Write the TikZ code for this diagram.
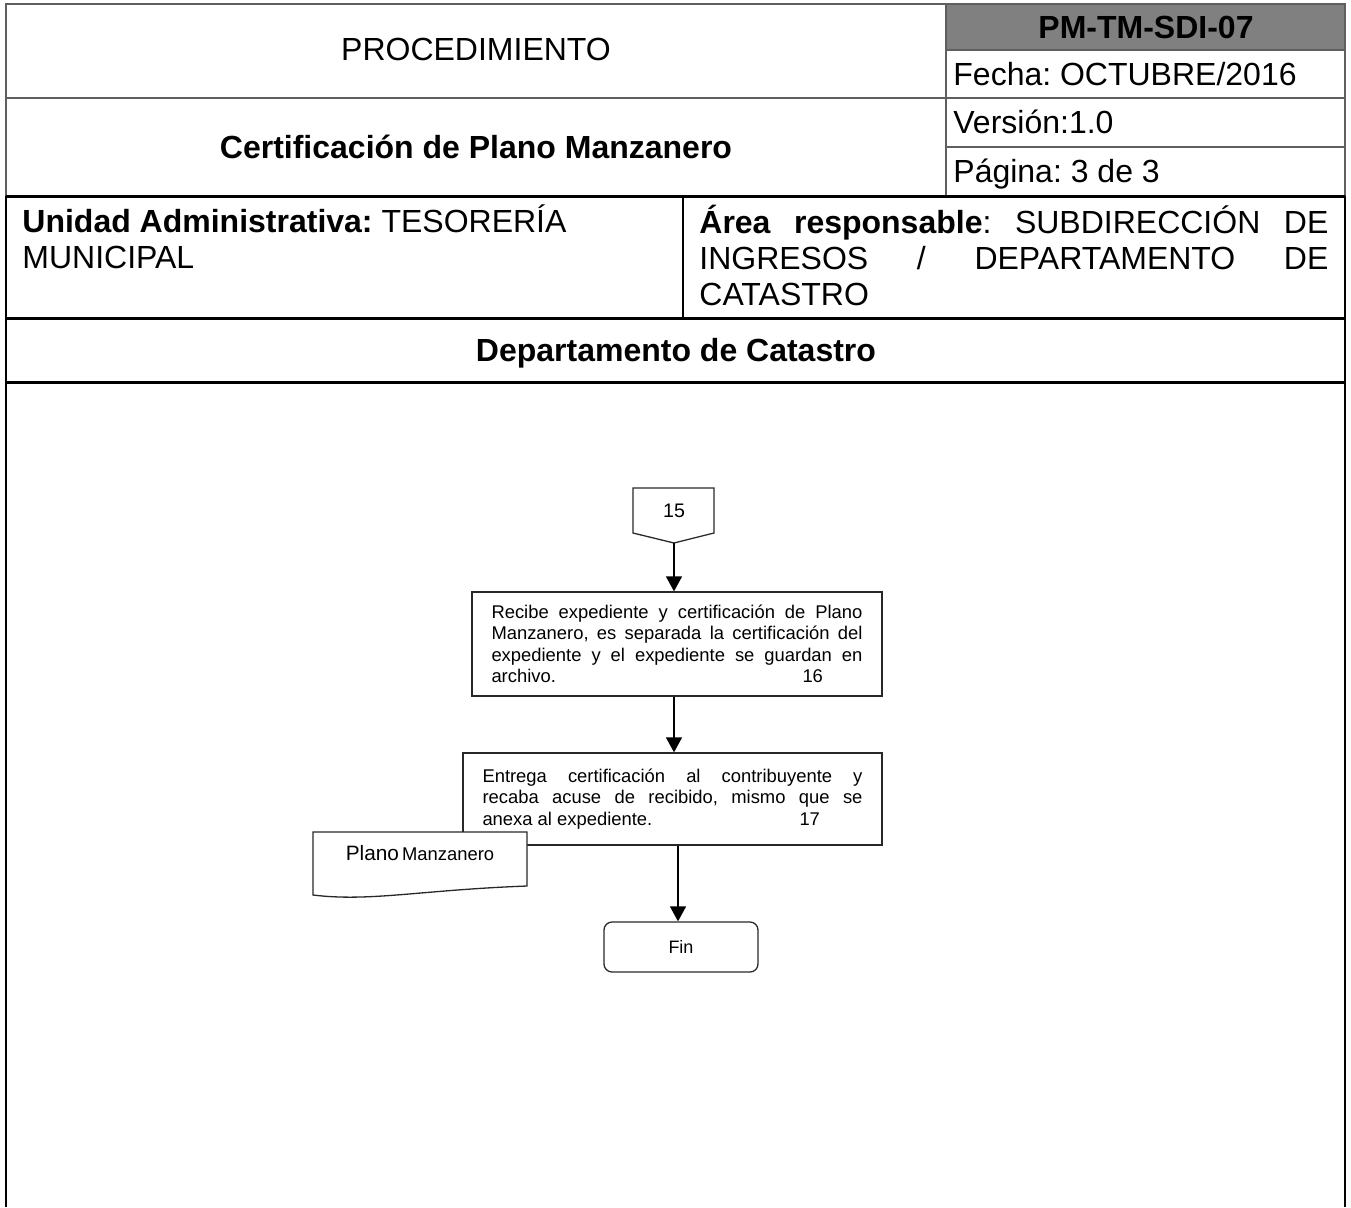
\documentclass[tikz,border=0pt]{standalone}
\usepackage{fontspec}
\setmainfont{Liberation Sans}
\usetikzlibrary{arrows.meta,calc}
\definecolor{hdrgray}{RGB}{128,128,128}
\definecolor{linegray}{RGB}{95,95,95}
\definecolor{boxline}{RGB}{40,40,40}
\frenchspacing
\begin{document}
\begin{tikzpicture}[x=0.5pt,y=-0.5pt,
  hline/.style={draw=linegray,line width=1pt},
  bline/.style={draw=black,line width=1.5pt},
  sline/.style={draw=black,line width=1pt},
  hdr/.style={font=\fontsize{16}{18}\selectfont,inner sep=0pt,anchor=base},
  hdrb/.style={hdr,font=\fontsize{16}{18}\selectfont\bfseries},
  procbox/.style={draw=boxline,line width=0.65pt,inner sep=0pt,font=\fontsize{9.2}{10.75}\selectfont},
  flowtxt/.style={inner sep=0pt,font=\fontsize{9.2}{10.75}\selectfont},
  arr/.style={draw=black,line width=0.65pt,-{Triangle[length=7.5pt,width=8pt]}},
]
\useasboundingbox (0,0) rectangle (1351,1207);

% ---------- header ----------
\fill[hdrgray] (946,4) rectangle (1345,50);
\draw[hline] (6,196) -- (6,4) -- (1345,4) -- (1345,196);
\draw[hline] (6,98) -- (1345,98);
\draw[hline] (946,4) -- (946,196);
\draw[hline] (946,50) -- (1345,50);
\draw[hline] (946,147) -- (1345,147);
\draw[sline] (6,196) -- (6,1207);
\draw[sline] (1345,196) -- (1345,1207);
\draw[bline] (6,196) -- (1345,196);
\draw[sline] (683,196) -- (683,318);
\draw[bline] (6,318) -- (1345,318);
\draw[bline] (6,382) -- (1345,382);

\node[hdr] (proc) at (476,60.5) {PROCEDIMIENTO};
\node[hdrb] (title) at (476,158.5) {Certificación de Plano Manzanero};
\node[hdrb] (code) at (1146,38.5) {PM-TM-SDI-07};
\node[hdr,anchor=base west] (fecha) at (953,85.5) {Fecha: OCTUBRE/2016};
\node[hdr,anchor=base west] (ver) at (953,133.5) {Versión:1.0};
\node[hdr,anchor=base west] (pag) at (953,182.5) {Página: 3 de 3};

\node[hdr,anchor=base west] (unidad) at (22,232)
  {\parbox[t]{320pt}{\fontsize{16}{18}\selectfont
   \textbf{Unidad Administrativa:} TESORERÍA\\
   MUNICIPAL}};
\node[hdr,anchor=base west] (area) at (699,233)
  {\parbox[t]{314.5pt}{\fontsize{16}{18}\selectfont
   \makebox[314.5pt][s]{\textbf{Área responsable}: SUBDIRECCIÓN DE}\\
   \makebox[314.5pt][s]{INGRESOS / DEPARTAMENTO DE}\\
   CATASTRO}};
\node[hdrb] (dept) at (676,361.5) {Departamento de Catastro};

% ---------- flowchart ----------
\draw[draw=boxline,line width=0.65pt] (633,488) -- (714,488) -- (714,533) -- (674,543) -- (633,533) -- cycle;
\node[inner sep=0pt,font=\fontsize{9.8}{11}\selectfont] (c15) at (674,511) {15};
\coordinate (c15tip) at (674,543);

\node[procbox,minimum width=205pt,minimum height=52pt] (b1) at (677,644)
  {\parbox{185.5pt}{%
   \makebox[185.5pt][s]{Recibe expediente y certificación de Plano}\\
   \makebox[185.5pt][s]{Manzanero, es separada la certificación del}\\
   \makebox[185.5pt][s]{expediente y el expediente se guardan en}\\
   \makebox[155.5pt][l]{archivo.}16}};

\node[procbox,minimum width=209.5pt,minimum height=46pt] (b2) at (672.5,799)
  {\parbox{190pt}{%
   \makebox[190pt][s]{Entrega certificación al contribuyente y}\\
   \makebox[190pt][s]{recaba acuse de recibido, mismo que se}\\
   \makebox[158.5pt][l]{anexa al expediente.}17}};

% document shape
\draw[draw=boxline,line width=0.65pt,fill=white] (313,832) -- (527,832) -- (527,886)
   .. controls (420,890) and (370,902) .. (313,895) -- cycle;
\node[flowtxt] (doc) at (420,853) {{\fontsize{10.4}{12}\selectfont Plano}\,Manzanero};

\node[draw=boxline,line width=0.65pt,rounded corners=4pt,minimum width=77pt,minimum height=25pt,inner sep=0pt,font=\fontsize{9}{10}\selectfont] (fin) at (681,947) {Fin};

\draw[arr] (c15tip) -- (c15tip |- b1.north);
\draw[arr] (c15tip |- b1.south) -- (c15tip |- b2.north);
\draw[arr] (b2.south -| 678,0) -- (fin.north -| 678,0);
\end{tikzpicture}
\end{document}
